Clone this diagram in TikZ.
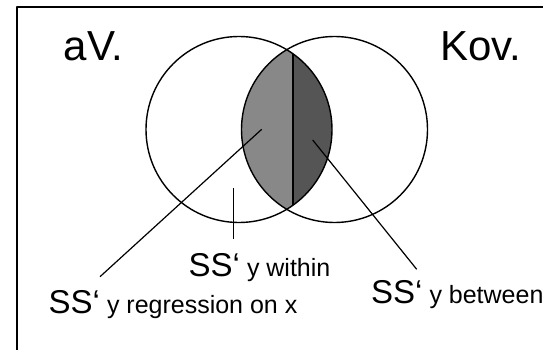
\documentclass[tikz,border=0pt]{standalone}
\usepackage{fontspec}
\setmainfont{Liberation Sans}
\definecolor{lensL}{HTML}{888888}
\definecolor{lensR}{HTML}{555555}
\begin{document}
\begin{tikzpicture}[x=1pt,y=-1pt,line join=round,
  ring/.style={circle,draw,line width=1.4pt,minimum size=186pt,inner sep=0pt},
  lead/.style={line width=1.2pt},
  big/.style={font=\fontsize{33}{33}\selectfont,inner sep=0pt,anchor=base west},
  title/.style={font=\fontsize{42}{42}\selectfont,inner sep=0pt,anchor=base west}]
\useasboundingbox (0,0) rectangle (543,350);
% frame
\coordinate (fl) at (17,352);
\coordinate (ft) at (17,7);
\coordinate (fr) at (545,7);
\draw[line width=1.5pt] (fl) -- (ft) -- (fr);
% lens fill
\begin{scope}
  \clip (239,129.5) circle (93pt);
  \clip (334.5,129.5) circle (93pt);
  \fill[lensL] (200,20) rectangle (293,240);
  \fill[lensR] (293,20) rectangle (400,240);
\end{scope}
\node[ring] (L) at (239,129.5) {};
\node[ring] (R) at (334.5,129.5) {};
\coordinate (vt) at (293,53.8);
\coordinate (vb) at (293,205.2);
\draw[line width=1.5pt] (vt) -- (vb);
% titles
\node[title] (av) at (63.5,61) {aV.};
\node[title] (kov) at (440,61) {Kov.};
% labels
\node[big] (within) at (188.5,276) {SS‘{\fontsize{25}{25}\selectfont\ y within}};
\node[big] (regr) at (48.5,313) {SS‘{\fontsize{25}{25}\selectfont\ y regression on x}};
\node[big] (betw) at (371,303) {SS‘{\fontsize{25}{25}\selectfont\ y between}};
% leaders
\coordinate (rin) at (261.7,129.3);
\coordinate (rout) at (100,276.7);
\coordinate (win) at (233.3,188.3);
\coordinate (wout) at (233.3,239.3);
\coordinate (bin) at (312.7,140);
\coordinate (bout) at (416.7,269.3);
\draw[lead] (rin) -- (rout);
\draw[lead] (win) -- (wout);
\draw[lead] (bin) -- (bout);
\end{tikzpicture}
\end{document}
